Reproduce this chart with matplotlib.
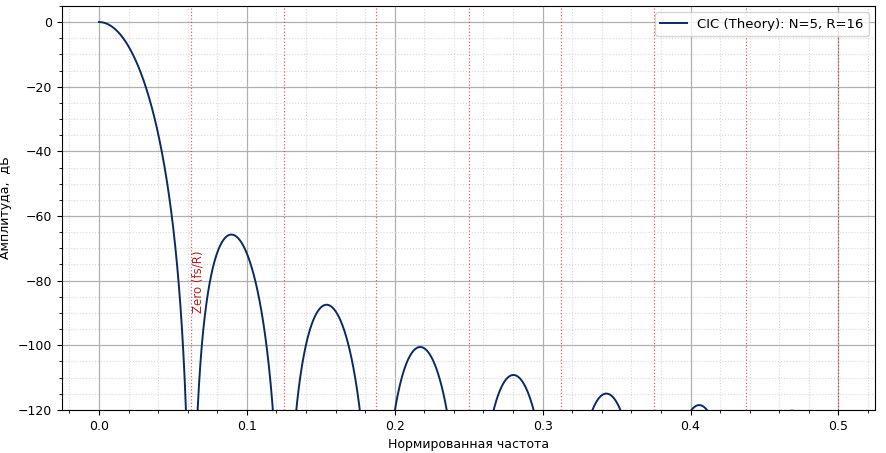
import numpy as np
import matplotlib
matplotlib.use("Agg")
import matplotlib.pyplot as plt

# CIC filter parameters (from legend)
N = 5      # number of stages
R = 16     # decimation ratio
y_min, y_max = -120, 5
zero_label = "Zero (fs/R)"
legend_label = "CIC (Theory): N=%d, R=%d" % (N, R)

freqs = np.linspace(1e-7, 0.5, 6000)
with np.errstate(divide="ignore"):
    H = np.abs(np.sin(np.pi * freqs * R) / (R * np.sin(np.pi * freqs))) ** N
    H_db = 20 * np.log10(H)

plt.rcParams["font.size"] = 9
fig = plt.figure(figsize=(8.86, 4.53), dpi=100)
ax = fig.add_axes([0.070, 0.095, 0.918, 0.892])

ax.plot(freqs, H_db, color="#0b2a63", lw=1.4, label=legend_label, zorder=3)

# zeros at k*fs/R
for k in range(1, R // 2 + 1):
    ax.axvline(k / R, color="#d62020", linestyle=":", lw=0.9, alpha=0.7, zorder=2)
ax.text(1 / R, -90, zero_label, rotation=90, color="#b22222",
        va="bottom", ha="left", fontsize=8.5)

ax.set_ylim(y_min, y_max)
ax.set_xlim(-0.025, 0.525)
ax.minorticks_on()
ax.grid(which="major", color="#b0b0b0", lw=0.9)
ax.grid(which="minor", color="#d8d8d8", linestyle=":", lw=0.8)
ax.set_axisbelow(True)

ax.set_xlabel("Нормированная частота")
ax.set_ylabel("Амплитуда,  дБ")
ax.legend(loc="upper right", fontsize=9.5)

plt.savefig("out.png", dpi=100)
